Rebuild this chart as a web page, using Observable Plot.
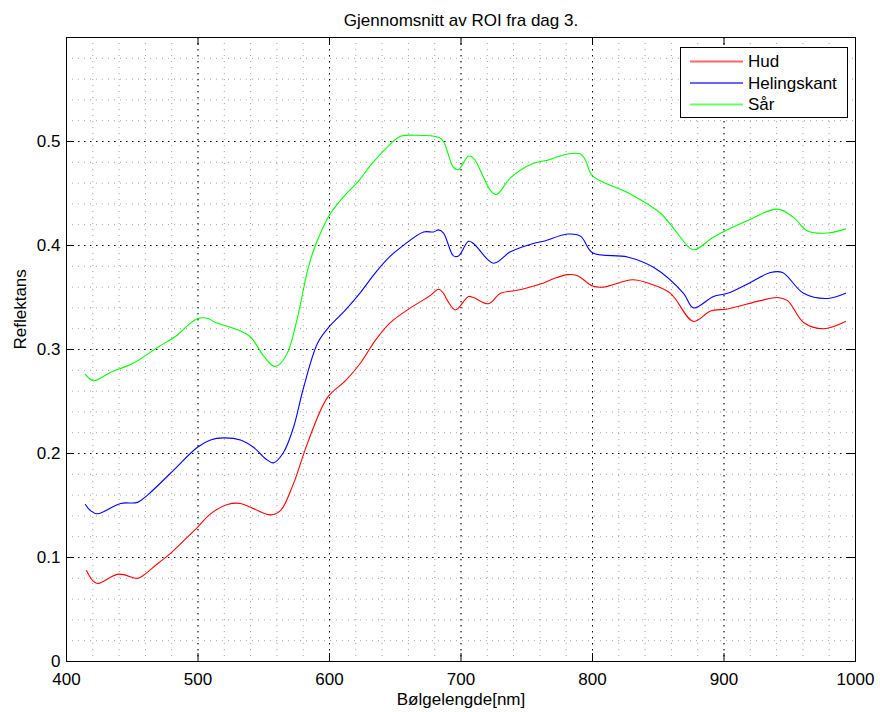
<!DOCTYPE html>
<html>
<head>
<meta charset="utf-8">
<script src="https://cdn.jsdelivr.net/npm/d3@7"></script>
<script src="https://cdn.jsdelivr.net/npm/@observablehq/plot@0.6"></script>
<style>
  body { margin: 0; background: #fff; }
</style>
</head>
<body>
<div id="chart"></div>
<script>
// Mean reflectance spectra of the regions of interest, day 3
const seriesNames = ["Hud", "Helingskant", "Sår"];
const seriesColors = ["#ff0000", "#0000ff", "#00ff00"];

const hudNm = [415.2, 419.8, 423.6, 439.5, 454.0, 458.6, 469.2, 479.1, 489.0, 499.6,
  509.5, 522.4, 532.3, 542.2, 555.1, 562.7, 572.6, 583.3, 598.5, 612.2,
  623.6, 635.0, 646.4, 661.6, 676.8, 682.9, 686.7, 689.7, 695.8, 705.7,
  709.5, 720.9, 730.0, 742.9, 760.5, 770.3, 781.0, 788.6, 800.0, 808.4,
  830.4, 844.1, 859.3, 876.8, 889.7, 902.7, 927.8, 940.7, 948.3, 960.5,
  975.7, 992.4];
const hudRefl = [0.0875, 0.078, 0.075, 0.084, 0.080, 0.083, 0.094, 0.104, 0.116, 0.129,
  0.142, 0.151, 0.152, 0.147, 0.141, 0.145, 0.171, 0.210, 0.254, 0.270,
  0.287, 0.309, 0.326, 0.340, 0.352, 0.358, 0.354, 0.347, 0.338, 0.351,
  0.350, 0.344, 0.354, 0.357, 0.363, 0.368, 0.372, 0.371, 0.361, 0.360,
  0.367, 0.363, 0.354, 0.327, 0.337, 0.339, 0.347, 0.350, 0.347, 0.326,
  0.320, 0.327];

const kantNm = [414.4, 418.3, 423.6, 441.1, 454.0, 461.6, 479.1, 499.6, 509.5, 519.4,
  532.3, 542.2, 551.3, 557.4, 565.0, 572.6, 580.2, 590.9, 599.2, 612.2,
  623.6, 635.0, 646.4, 654.0, 671.5, 679.1, 682.9, 686.7, 694.3, 698.1,
  705.7, 709.5, 724.7, 737.6, 755.1, 762.7, 781.0, 790.9, 800.0, 826.6,
  846.4, 869.2, 876.8, 892.0, 902.7, 917.9, 935.4, 944.5, 960.5, 978.7,
  992.4];
const kantRefl = [0.151, 0.145, 0.142, 0.152, 0.153, 0.160, 0.181, 0.206, 0.213, 0.215,
  0.213, 0.206, 0.195, 0.191, 0.201, 0.225, 0.263, 0.306, 0.321, 0.338,
  0.355, 0.374, 0.390, 0.398, 0.413, 0.413, 0.415, 0.412, 0.390, 0.390,
  0.404, 0.402, 0.383, 0.394, 0.402, 0.404, 0.411, 0.409, 0.393, 0.389,
  0.379, 0.354, 0.340, 0.351, 0.354, 0.363, 0.374, 0.374, 0.354, 0.349,
  0.354];

const saarNm = [414.4, 420.5, 433.5, 451.0, 469.2, 484.4, 492.0, 500.4, 507.2, 513.3,
  530.0, 539.9, 549.8, 557.4, 561.2, 568.1, 575.7, 583.3, 587.8, 593.2,
  600.8, 612.2, 622.1, 631.2, 642.6, 654.0, 665.4, 682.9, 686.7, 694.3,
  698.1, 705.7, 709.5, 722.4, 727.0, 737.6, 755.1, 765.8, 781.0, 790.9,
  794.7, 800.0, 826.6, 851.7, 874.5, 878.3, 892.0, 917.9, 940.7, 952.9,
  963.5, 978.7, 992.4];
const saarRefl = [0.276, 0.270, 0.278, 0.287, 0.302, 0.314, 0.323, 0.330, 0.330, 0.326,
  0.319, 0.312, 0.294, 0.284, 0.285, 0.297, 0.331, 0.376, 0.395, 0.412,
  0.431, 0.449, 0.462, 0.477, 0.493, 0.505, 0.506, 0.504, 0.500, 0.475,
  0.473, 0.486, 0.484, 0.453, 0.449, 0.465, 0.479, 0.482, 0.488, 0.488,
  0.482, 0.467, 0.451, 0.431, 0.397, 0.396, 0.408, 0.424, 0.435, 0.427,
  0.414, 0.412, 0.416];

const xTicks = [400, 500, 600, 700, 800, 900, 1000];
const yTicks = [0, 0.1, 0.2, 0.3, 0.4, 0.5];
const xMinor = d3.range(420, 1000, 20);
const yMinor = d3.range(1, 30).map(i => i / 50);

const titleText = "Gjennomsnitt av ROI fra dag 3.";
const xLabel = "Bølgelengde[nm]";
const yLabel = "Reflektans";

// long table: one row per sample
const spectra = [
  [hudNm, hudRefl], [kantNm, kantRefl], [saarNm, saarRefl]
].flatMap(([nm, r], s) => nm.map((w, i) => ({series: seriesNames[s], nm: w, refl: r[i]})));

const W = 880, H = 712;
const mL = 66, mR = 25, mT = 37, mB = 51;
const plotW = W - mL - mR, plotH = H - mT - mB;
const tickLen = 8;
const font = "'Liberation Sans', Arial, Helvetica, sans-serif";
const fs = 17;
const minorDots = "1,5";
const majorDots = "1.5,4.5";

const chart = Plot.plot({
  width: W, height: H,
  marginLeft: mL, marginRight: mR, marginTop: mT, marginBottom: mB,
  style: {fontFamily: font, fontSize: fs + "px", background: "#fff", color: "#000"},
  x: {domain: [400, 1000]},
  y: {domain: [0, 0.6]},
  color: {domain: seriesNames, range: seriesColors},
  marks: [
    // minor grid
    Plot.gridX(xMinor, {stroke: "#a0a0a0", strokeOpacity: 1, strokeDasharray: minorDots}),
    Plot.gridY(yMinor, {stroke: "#a0a0a0", strokeOpacity: 1, strokeDasharray: minorDots}),
    // major grid
    Plot.gridX(xTicks, {stroke: "#000", strokeOpacity: 1, strokeDasharray: majorDots}),
    Plot.gridY(yTicks, {stroke: "#000", strokeOpacity: 1, strokeDasharray: majorDots}),
    // spectra
    Plot.line(spectra, {x: "nm", y: "refl", z: "series", stroke: "series", strokeWidth: 1.1, curve: "catmull-rom"}),
    // inward ticks on all four sides
    Plot.ruleX(xTicks, {stroke: "#000", insetTop: plotH - tickLen}),
    Plot.ruleX(xTicks, {stroke: "#000", insetBottom: plotH - tickLen}),
    Plot.ruleY(yTicks, {stroke: "#000", insetRight: plotW - tickLen}),
    Plot.ruleY(yTicks, {stroke: "#000", insetLeft: plotW - tickLen}),
    Plot.frame({stroke: "#000", strokeWidth: 1}),
    Plot.axisX(xTicks, {tickSize: 0, tickPadding: 11, label: null, tickFormat: d => String(d), fontSize: fs}),
    Plot.axisY(yTicks, {tickSize: 0, tickPadding: 6, label: null, tickFormat: d => String(d), fontSize: fs}),
    // title and axis labels
    Plot.text([titleText], {text: d => d, frameAnchor: "top", dy: -12, lineAnchor: "bottom", fontSize: fs}),
    Plot.text([xLabel], {text: d => d, frameAnchor: "bottom", dy: 43, lineAnchor: "bottom", fontSize: fs}),
    Plot.text([yLabel], {text: d => d, frameAnchor: "left", dx: -41, rotate: -90, lineAnchor: "bottom", fontSize: fs})
  ]
});

// legend box in the upper right corner of the axes
const svg = d3.select(chart);
const xr = chart.scale("x").range, yr = chart.scale("y").range;
const frameRight = Math.max(...xr), frameTop = Math.min(...yr);
const boxW = 167, boxH = 70, rowH = 21.5;
const lg = svg.append("g")
  .attr("transform", `translate(${frameRight - boxW - 8},${frameTop + 10})`)
  .attr("font-family", font).attr("font-size", fs).attr("text-anchor", "start");
lg.append("rect").attr("x", 0.5).attr("y", 0.5).attr("width", boxW).attr("height", boxH)
  .attr("fill", "#fff").attr("stroke", "#000");
seriesNames.forEach((name, i) => {
  const cy = 14.5 + i * rowH;
  lg.append("line").attr("x1", 10).attr("x2", 63).attr("y1", cy).attr("y2", cy)
    .attr("stroke", seriesColors[i]).attr("stroke-width", 2).attr("stroke-opacity", 0.6);
  lg.append("text").attr("x", 68).attr("y", cy).attr("dy", "0.35em")
    .attr("text-anchor", "start").attr("fill", "#000").text(name);
});

document.getElementById("chart").appendChild(chart);
</script>
</body>
</html>
